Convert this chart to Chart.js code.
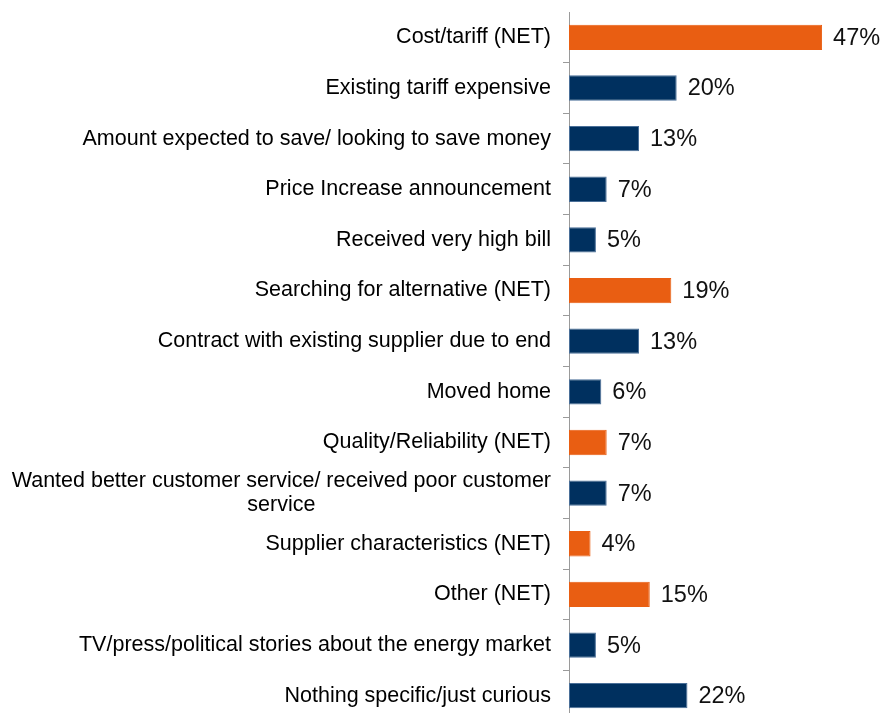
<!DOCTYPE html>
<html>
<head>
<meta charset="utf-8">
<script src="https://cdn.jsdelivr.net/npm/chart.js@4.4.0/dist/chart.umd.min.js"></script>
<style>
  html, body { margin: 0; padding: 0; background: #fff; overflow: hidden; }
  #wrap { width: 884px; height: 721px; position: relative; }
</style>
</head>
<body>
<div id="wrap"><canvas id="grafico"></canvas></div>
<script>
// Motivos (categorías) y porcentajes
const categorias = [
  'Cost/tariff (NET)',
  'Existing tariff expensive',
  'Amount expected to save/ looking to save money',
  'Price Increase announcement',
  'Received very high bill',
  'Searching for alternative (NET)',
  'Contract with existing supplier due to end',
  'Moved home',
  'Quality/Reliability (NET)',
  ['Wanted better customer service/ received poor customer', 'service'],
  'Supplier characteristics (NET)',
  'Other (NET)',
  'TV/press/political stories about the energy market',
  'Nothing specific/just curious'
];
const valores = [47, 20, 13, 7, 5, 19, 13, 6, 7, 7, 4, 15, 5, 22];
const esNet = [true, false, false, false, false, true, false, false, true, false, true, true, false, false];

const NARANJA = '#E95E12';
const AZUL = '#00305F';

// Etiquetas de categoría dibujadas a mano (líneas centradas entre sí)
const etiquetasPlugin = {
  id: 'etiquetas',
  afterDraw(chart) {
    const ctx = chart.ctx;
    const y = chart.scales.y;
    ctx.save();
    ctx.font = '21.5px Arial, "Liberation Sans", sans-serif';
    ctx.fillStyle = '#000';
    ctx.textBaseline = 'middle';
    ctx.textAlign = 'center';
    categorias.forEach((cat, i) => {
      const lineas = Array.isArray(cat) ? cat : [cat];
      const maxW = Math.max(...lineas.map(l => ctx.measureText(l).width));
      const cx = 551 - maxW / 2;
      const cy = y.getPixelForTick(i);
      const alto = 24;
      lineas.forEach((l, k) => {
        ctx.fillText(l, cx, cy + (k - (lineas.length - 1) / 2) * alto);
      });
    });
    ctx.restore();
  }
};

// Valores al final de cada barra
const valoresPlugin = {
  id: 'valores',
  afterDatasetsDraw(chart) {
    const ctx = chart.ctx;
    const meta = chart.getDatasetMeta(0);
    ctx.save();
    ctx.font = '23.5px Arial, "Liberation Sans", sans-serif';
    ctx.fillStyle = '#111';
    ctx.textBaseline = 'middle';
    ctx.textAlign = 'left';
    meta.data.forEach((bar, i) => {
      ctx.fillText(valores[i] + '%', bar.x + 11, bar.y + 1);
    });
    ctx.restore();
  }
};

window.onload = function () {
  const ctx = document.getElementById('grafico').getContext('2d');
  new Chart(ctx, {
    type: 'bar',
    data: {
      labels: categorias.map(c => Array.isArray(c) ? c.join(' ') : c),
      datasets: [{
        data: valores,
        backgroundColor: esNet.map(n => n ? NARANJA : AZUL),
        borderColor: esNet.map(n => n ? NARANJA : '#4a6f98'),
        borderWidth: 1,
        borderSkipped: false,
        categoryPercentage: 0.5,
        barPercentage: 1
      }]
    },
    options: {
      indexAxis: 'y',
      responsive: true,
      maintainAspectRatio: false,
      animation: false,
      layout: { padding: { top: 12, right: 0, bottom: 0, left: 0 } },
      plugins: {
        legend: { display: false },
        tooltip: { enabled: false }
      },
      scales: {
        x: {
          display: false,
          min: 0,
          max: 58.5
        },
        y: {
          ticks: { display: false },
          grid: {
            offset: true,
            drawOnChartArea: false,
            tickLength: 6,
            color: c => c.index === 0 ? 'rgba(0,0,0,0)' : '#9a9a9a'
          },
          border: { color: '#9a9a9a', width: 1 },
          afterFit: s => { s.width = 569; }
        }
      }
    },
    plugins: [etiquetasPlugin, valoresPlugin]
  });
};
</script>
</body>
</html>
